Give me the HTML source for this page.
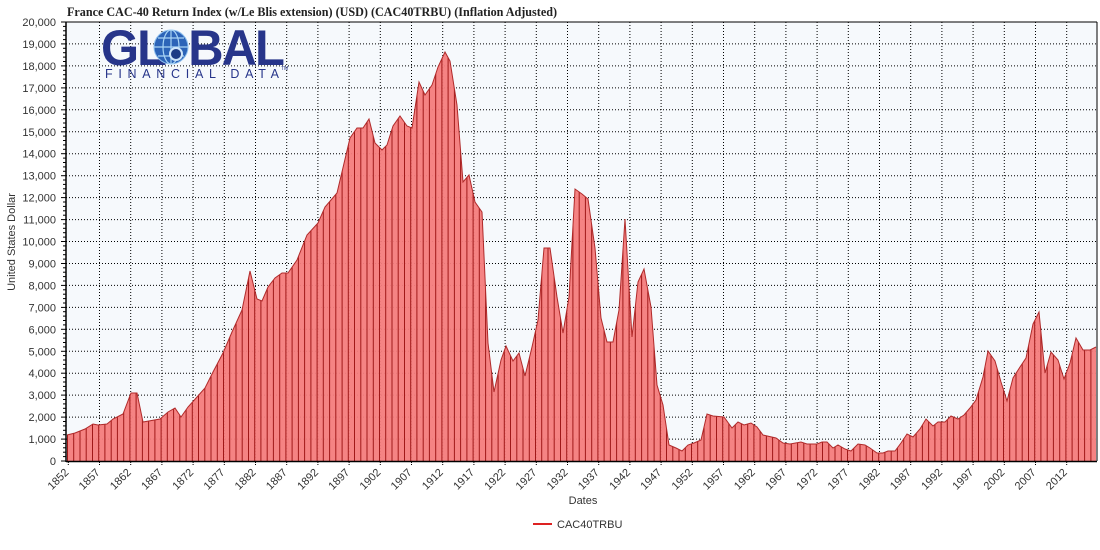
<!DOCTYPE html>
<html><head><meta charset="utf-8"><style>
html,body{margin:0;padding:0;background:#fff;}
svg{display:block;}
</style></head><body>
<svg width="1100" height="550" viewBox="0 0 1100 550" xmlns="http://www.w3.org/2000/svg" font-family="Liberation Sans, Arial, sans-serif">
<defs>
<clipPath id="ac"><path id="areap" d=""/></clipPath>
</defs>
<text x="67" y="16" font-family="Liberation Serif, serif" font-weight="bold" font-size="12.5" fill="#222" textLength="490" lengthAdjust="spacingAndGlyphs">France CAC-40 Return Index (w/Le Blis extension) (USD) (CAC40TRBU) (Inflation Adjusted)</text>
<rect x="66" y="22" width="1031" height="439" fill="#f6f9fc"/>
<g id="grid" stroke="#000" stroke-width="1" stroke-dasharray="1,2"></g>
<g id="logo">
<text x="101" y="65" font-size="50" font-weight="bold" fill="#27358a" letter-spacing="-2" textLength="182" lengthAdjust="spacingAndGlyphs">GL&#160;&#160;BAL</text>
<circle cx="171" cy="47" r="17" fill="#2c64b8"/>
<circle cx="171" cy="47" r="17" fill="none" stroke="#8fc0ee" stroke-width="1"/>
<path d="M154 47h34M171 30v34M158 38h26M158 56h26" stroke="#a8d4f5" stroke-width="1.2" fill="none"/>
<ellipse cx="171" cy="47" rx="8" ry="17" fill="none" stroke="#a8d4f5" stroke-width="1.2"/>
<circle cx="176" cy="54" r="6" fill="#1d3c86" stroke="#cfe6fa" stroke-width="2"/>
<text x="105" y="78" font-size="12.5" fill="#27358a" textLength="174" lengthAdjust="spacing">FINANCIAL DATA</text>
<text x="281" y="70" font-size="5" fill="#27358a">TM</text>
</g>
<path id="area" d="" fill="#f47c7c" fill-opacity="0.95"/>
<g id="bars" clip-path="url(#ac)" stroke="#a01818" stroke-width="1"></g>
<path id="line" d="" fill="none" stroke="#b02a2a" stroke-width="1"/>
<line x1="66" y1="22" x2="1097" y2="22" stroke="#000"/>
<line x1="66" y1="22" x2="66" y2="462" stroke="#000" stroke-width="1.5"/>
<line x1="66" y1="461.5" x2="1097" y2="461.5" stroke="#000" stroke-width="1.5"/>
<line x1="1097" y1="22" x2="1097" y2="461" stroke="#000"/>
<g id="yt" font-size="11" fill="#333" text-anchor="end"></g>
<g id="ticks" stroke="#000" stroke-width="1"></g>
<g id="xt" font-size="11" fill="#333" text-anchor="end"></g>
<text transform="translate(15,242) rotate(-90)" font-size="11" fill="#333" text-anchor="middle">United States Dollar</text>
<text x="583" y="504" font-size="11" fill="#333" text-anchor="middle">Dates</text>
<line x1="533" y1="524" x2="552" y2="524" stroke="#d22" stroke-width="2"/>
<text x="557" y="528" font-size="11" fill="#333">CAC40TRBU</text>
</svg>
<script>
(function(){
var NS="http://www.w3.org/2000/svg";
function el(t,a,p){var e=document.createElementNS(NS,t);for(var k in a)e.setAttribute(k,a[k]);p.appendChild(e);return e;}
var pts=[[67,435],[75,433],[85,429],[93,424],[98,425],[107,424],[113,419],[123,414],[131,393],[137,393],[143,422],[160,419],[168,412],[175,408],[181,417],[188,407],[197,397],[205,388],[213,372],[223,353],[232,332],[242,310],[250,271],[257,299],[262,301],[268,287],[275,278],[282,273],[288,273],[297,260],[307,235],[318,223],[325,207],[337,193],[350,138],[357,128],[363,128],[369,119],[375,143],[382,150],[387,145],[393,126],[400,116],[407,126],[412,128],[419,82],[425,95],[432,85],[438,67],[445,52],[450,61],[457,105],[463,182],[469,175],[475,202],[482,212],[488,343],[494,392],[501,360],[506,346],[513,361],[519,353],[525,376],[532,347],[538,320],[544,248],[550,248],[557,297],[563,333],[569,297],[575,189],[582,194],[588,199],[595,248],[601,318],[607,342],[613,342],[619,310],[625,219],[632,337],[638,282],[644,269],[651,307],[657,385],[663,405],[669,445],[676,448],[682,451],[688,445],[694,443],[701,440],[707,414],[713,416],[724,417],[732,428],[738,422],[744,425],[751,423],[757,427],[763,435],[776,438],[783,443],[790,444],[801,442],[807,444],[817,444],[822,442],[827,442],[833,448],[838,445],[845,449],[851,451],[858,444],[865,445],[870,448],[877,453],[883,453],[888,451],[895,451],[901,443],[907,434],[913,437],[920,429],[926,419],[933,426],[938,422],[945,422],[951,416],[958,419],[964,415],[970,408],[976,400],[983,377],[988,351],[995,361],[1001,382],[1007,401],[1013,378],[1020,367],[1026,358],[1033,324],[1039,312],[1045,373],[1051,352],[1058,360],[1064,379],[1070,363],[1076,338],[1083,350],[1090,350],[1096,347]];
var l="M"+pts.map(function(p){return p[0]+" "+p[1];}).join(" L");
var a=l+" L1096 461 L67 461 Z";
document.getElementById("line").setAttribute("d",l);
document.getElementById("area").setAttribute("d",a);
document.getElementById("areap").setAttribute("d",a);
var bars=document.getElementById("bars");
for(var x=67.5;x<1097;x+=6.24){el("line",{x1:x.toFixed(1),y1:40,x2:x.toFixed(1),y2:461},bars);}
var grid=document.getElementById("grid"),yt=document.getElementById("yt"),tk=document.getElementById("ticks");
for(var v=0;v<=20;v++){var y=461-v*21.95;
 if(v>0)el("line",{x1:66,y1:y.toFixed(1),x2:1097,y2:y.toFixed(1)},grid);
 var t=el("text",{x:56,y:(y+4).toFixed(1)},yt);t.textContent=v==0?"0":v+",000";
 el("line",{x1:61,y1:y.toFixed(1),x2:66,y2:y.toFixed(1)},tk);
 if(v<20)for(var m=1;m<5;m++){var ym=y-m*4.39;el("line",{x1:63,y1:ym.toFixed(1),x2:66,y2:ym.toFixed(1)},tk);}
}
var xt=document.getElementById("xt");
for(var i=0;i<=32;i++){var yr=1852+5*i;var x=68.3+i*31.2;
 if(i>0)el("line",{x1:x.toFixed(1),y1:22,x2:x.toFixed(1),y2:461},grid);
 el("line",{x1:x.toFixed(1),y1:462,x2:x.toFixed(1),y2:465,"stroke-dasharray":"1,1"},tk);
 var t=el("text",{transform:"translate("+(x+1).toFixed(1)+",473) rotate(-45)"},xt);t.textContent=yr;
}
})();
</script>
</body></html>
